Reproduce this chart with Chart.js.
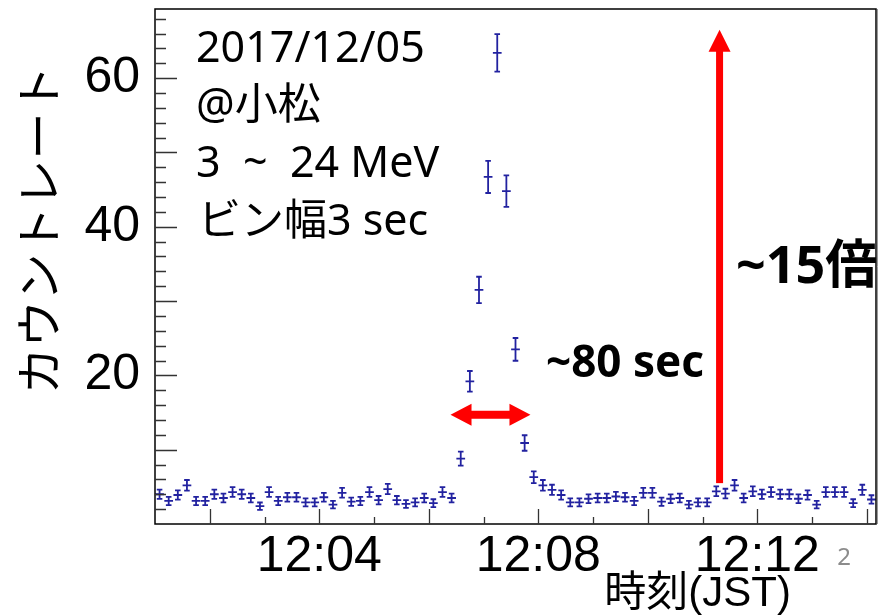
<!DOCTYPE html>
<html>
<head>
<meta charset="utf-8">
<script src="https://cdn.jsdelivr.net/npm/chart.js@4.4.1/dist/chart.umd.min.js"></script>
<style>
  body { margin: 0; background: #fff; }
  canvas { display: block; }
</style>
</head>
<body>
<canvas id="rateChart" width="884" height="615"></canvas>
<script>
// count rate per 10 s bin, first bin starts at 12:01:00 (seconds after 12:00:00)
var binStart = 60;
var binWidth = 10;
var rates = [
  4.0, 3.1, 3.9, 5.2, 3.1, 3.1, 4.0, 3.5, 4.3, 4.0,
  3.5, 2.4, 4.3, 3.1, 3.6, 3.6, 2.9, 2.9, 3.6, 2.6,
  4.2, 3.0, 3.1, 4.3, 3.2, 4.7, 3.2, 2.7, 2.9, 3.5,
  2.8, 4.3, 3.5, 8.8, 19.2, 31.5, 46.7, 63.4, 44.8, 23.5,
  10.9, 6.3, 5.2, 4.6, 3.9, 2.9, 2.9, 3.4, 3.5, 3.5,
  3.7, 3.6, 3.1, 4.2, 4.2, 3.0, 3.4, 3.5, 2.6, 2.9,
  2.9, 4.4, 4.1, 5.2, 3.5, 4.4, 4.0, 4.3, 4.0, 4.0,
  3.4, 3.9, 2.6, 4.3, 4.3, 4.3, 2.8, 4.6, 3.3
];
var rateErrors = [
  0.63, 0.56, 0.62, 0.72, 0.56, 0.56, 0.63, 0.59, 0.66, 0.63,
  0.59, 0.49, 0.66, 0.56, 0.60, 0.60, 0.54, 0.54, 0.60, 0.51,
  0.65, 0.55, 0.56, 0.66, 0.57, 0.69, 0.57, 0.52, 0.54, 0.59,
  0.53, 0.66, 0.59, 0.94, 1.39, 1.77, 2.16, 2.52, 2.12, 1.53,
  1.04, 0.79, 0.72, 0.68, 0.62, 0.54, 0.54, 0.58, 0.59, 0.59,
  0.61, 0.60, 0.56, 0.65, 0.65, 0.55, 0.58, 0.59, 0.51, 0.54,
  0.54, 0.66, 0.64, 0.72, 0.59, 0.66, 0.63, 0.66, 0.63, 0.63,
  0.58, 0.62, 0.51, 0.66, 0.66, 0.66, 0.53, 0.68, 0.57
];
var xTickSeconds = [240, 480, 720];
var xTickLabels = ['12:04', '12:08', '12:12'];
var yTickLabels = [20, 40, 60];

var xMin = 60, xMax = 850;
var yMin = 0, yMax = 69.3;

var points = rates.map(function(r, i) {
  return { x: binStart + binWidth * (i + 0.5), y: r };
});

var sans = '"Liberation Sans", Arial, sans-serif';
var slide = '"Noto Sans", "Noto Sans CJK JP", sans-serif';

function noPad(scale) {
  scale.paddingTop = 0;
  scale.paddingBottom = 0;
  scale.paddingLeft = 0;
  scale.paddingRight = 0;
}

var histPlugin = {
  id: 'histPlugin',
  afterDatasetsDraw: function(chart) {
    var ctx = chart.ctx, xs = chart.scales.x, ys = chart.scales.y, a = chart.chartArea;
    ctx.save();

    // error bar crosses
    ctx.strokeStyle = '#2222a0';
    ctx.lineWidth = 1.8;
    chart.data.datasets[0].data.forEach(function(p, i) {
      var px = xs.getPixelForValue(p.x), py = ys.getPixelForValue(p.y);
      var x0 = xs.getPixelForValue(p.x - binWidth / 2) + 0.2;
      var x1 = xs.getPixelForValue(p.x + binWidth / 2) - 0.2;
      var lo = ys.getPixelForValue(p.y - rateErrors[i]);
      var hi = ys.getPixelForValue(p.y + rateErrors[i]);
      ctx.beginPath();
      ctx.moveTo(x0, py); ctx.lineTo(x1, py);
      ctx.moveTo(px, lo); ctx.lineTo(px, hi);
      ctx.moveTo(px - 2.8, lo); ctx.lineTo(px + 2.8, lo);
      ctx.moveTo(px - 2.8, hi); ctx.lineTo(px + 2.8, hi);
      ctx.stroke();
    });

    // frame
    ctx.strokeStyle = '#000';
    ctx.lineWidth = 1.5;
    ctx.strokeRect(a.left, a.top, a.right - a.left, a.bottom - a.top);
    ctx.strokeStyle = '#999';
    ctx.lineWidth = 1;
    ctx.beginPath();
    ctx.moveTo(a.right + 1.5, a.top); ctx.lineTo(a.right + 1.5, a.bottom);
    ctx.stroke();

    // inside ticks
    ctx.strokeStyle = '#333';
    ctx.lineWidth = 1.3;
    ctx.beginPath();
    for (var v = 2; v < yMax; v += 2) {
      var y = Math.round(ys.getPixelForValue(v)) + 0.5;
      var len = (v % 10 === 0) ? 22 : 11;
      ctx.moveTo(a.left, y); ctx.lineTo(a.left + len, y);
    }
    for (var t = 120; t < xMax; t += 60) {
      var x = Math.round(xs.getPixelForValue(t)) + 0.5;
      var tl = (t % 120 === 0) ? 15 : 7;
      ctx.moveTo(x, a.bottom); ctx.lineTo(x, a.bottom - tl);
    }
    ctx.stroke();
    ctx.restore();
  },
  afterDraw: function(chart) {
    var ctx = chart.ctx, xs = chart.scales.x, ys = chart.scales.y;
    ctx.save();

    // axis titles
    ctx.fillStyle = '#000';
    ctx.font = '47px "Noto Sans CJK JP", sans-serif';
    ctx.textAlign = 'center';
    ctx.textBaseline = 'middle';
    ctx.translate(38, 230);
    ctx.rotate(-Math.PI / 2);
    ctx.fillText('カウントレート', 0, 0);
    ctx.setTransform(1, 0, 0, 1, 0, 0);

    ctx.font = '42px "Liberation Sans", "Noto Sans CJK JP", sans-serif';
    ctx.textAlign = 'right';
    ctx.textBaseline = 'alphabetic';
    ctx.fillText('時刻(JST)', 791, 606);

    // slide number
    ctx.fillStyle = '#8c8c8c';
    ctx.font = '24px ' + slide;
    ctx.textAlign = 'center';
    ctx.textBaseline = 'middle';
    ctx.fillText('2', 844, 558);

    // info text
    ctx.fillStyle = '#000';
    ctx.font = '43px ' + slide;
    ctx.textAlign = 'left';
    ctx.textBaseline = 'alphabetic';
    ctx.fillText('2017/12/05', 196, 62);
    ctx.fillText('@小松', 196, 119);
    ctx.fillText('3  ~  24 MeV', 196, 177);
    ctx.fillText('ビン幅3 sec', 198, 235);

    ctx.font = 'bold 52px ' + slide;
    ctx.fillText('~15倍', 736, 283);
    ctx.font = 'bold 44px ' + slide;
    ctx.fillText('~80 sec', 546, 377);

    // red arrows
    ctx.fillStyle = '#ff0000';
    var ax = xs.getPixelForValue(678.6);
    var aBot = ys.getPixelForValue(5.5), aTop = ys.getPixelForValue(66.5);
    ctx.fillRect(ax - 3.5, aTop + 20, 7, aBot - aTop - 20);
    ctx.beginPath();
    ctx.moveTo(ax, aTop);
    ctx.lineTo(ax - 11, aTop + 22);
    ctx.lineTo(ax + 11, aTop + 22);
    ctx.closePath();
    ctx.fill();

    var hy = ys.getPixelForValue(14.7);
    var hL = xs.getPixelForValue(383.8), hR = xs.getPixelForValue(471.4);
    ctx.fillRect(hL + 19, hy - 4, hR - hL - 38, 8);
    ctx.beginPath();
    ctx.moveTo(hL, hy); ctx.lineTo(hL + 21, hy - 11); ctx.lineTo(hL + 21, hy + 11);
    ctx.closePath();
    ctx.moveTo(hR, hy); ctx.lineTo(hR - 21, hy - 11); ctx.lineTo(hR - 21, hy + 11);
    ctx.closePath();
    ctx.fill();

    ctx.restore();
  }
};

var chart = new Chart(document.getElementById('rateChart').getContext('2d'), {
  type: 'scatter',
  data: {
    datasets: [{
      label: 'rate',
      data: points,
      pointRadius: 0,
      showLine: false
    }]
  },
  options: {
    responsive: false,
    animation: false,
    devicePixelRatio: 1,
    layout: { padding: { top: 9, right: 8, left: 0, bottom: 0 } },
    plugins: { legend: { display: false }, tooltip: { enabled: false } },
    scales: {
      x: {
        type: 'linear',
        min: xMin,
        max: xMax,
        grid: { display: false, drawTicks: false },
        border: { display: false },
        afterBuildTicks: function(scale) {
          scale.ticks = xTickSeconds.map(function(v) { return { value: v }; });
        },
        afterFit: function(scale) { scale.height = 91; noPad(scale); },
        ticks: {
          autoSkip: false,
          maxRotation: 0,
          padding: 3,
          color: '#000',
          font: { family: sans, size: 50 },
          callback: function(v) { return xTickLabels[xTickSeconds.indexOf(v)]; }
        }
      },
      y: {
        min: yMin,
        max: yMax,
        grid: { display: false, drawTicks: false },
        border: { display: false },
        afterBuildTicks: function(scale) {
          scale.ticks = yTickLabels.map(function(v) { return { value: v }; });
        },
        afterFit: function(scale) { scale.width = 155; noPad(scale); },
        ticks: {
          padding: 15,
          color: '#000',
          font: { family: sans, size: 50 },
          callback: function(v) { return String(v); }
        }
      }
    }
  },
  plugins: [histPlugin]
});
</script>
</body>
</html>
